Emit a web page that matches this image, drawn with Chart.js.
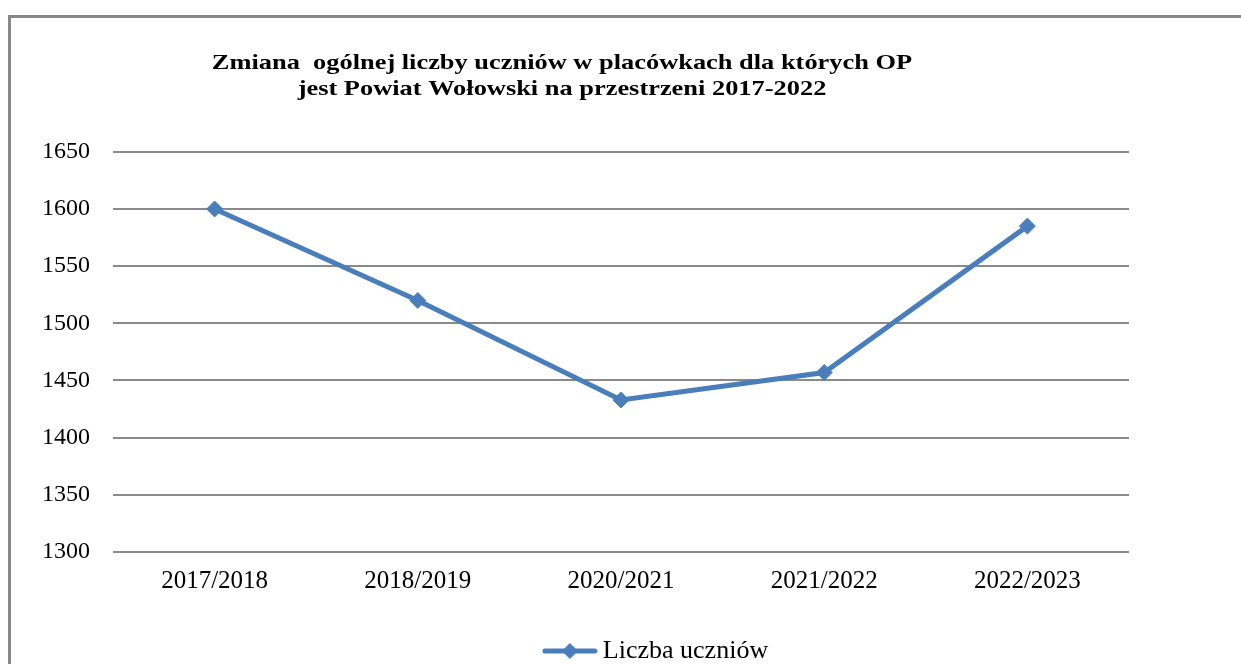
<!DOCTYPE html>
<html>
<head>
<meta charset="utf-8">
<script src="https://cdn.jsdelivr.net/npm/chart.js@4/dist/chart.umd.min.js"></script>
<style>
  html, body { margin: 0; padding: 0; background: #fff; }
  #wrap { width: 1241px; height: 664px; position: relative; }
</style>
</head>
<body>
<div id="wrap"><canvas id="c" width="1241" height="664"></canvas></div>
<script>
const categories = ['2017/2018', '2018/2019', '2020/2021', '2021/2022', '2022/2023'];
const liczbaUczniow = [1600, 1520, 1433, 1457, 1585];
const seriesName = 'Liczba uczniów';
const titleLines = ['Zmiana  ogólnej liczby uczniów w placówkach dla których OP', 'jest Powiat Wołowski na przestrzeni 2017-2022'];
const yMin = 1300, yMax = 1650, yStep = 50;

const BLUE = '#4a7ebb';
const SERIF = '"Liberation Serif", "Times New Roman", serif';
const TITLE_CX = 562, TITLE_SX = 1.2;

// legend symbol: line with diamond
const sym = document.createElement('canvas');
sym.width = 56; sym.height = 20;
(function () {
  const g = sym.getContext('2d');
  g.strokeStyle = BLUE; g.lineWidth = 5; g.lineCap = 'round';
  g.beginPath(); g.moveTo(3, 10); g.lineTo(53, 10); g.stroke();
  g.fillStyle = BLUE;
  g.beginPath(); g.moveTo(28, 2); g.lineTo(36, 10); g.lineTo(28, 18); g.lineTo(20, 10); g.closePath(); g.fill();
})();

const framePlugin = {
  id: 'frame',
  beforeDraw(chart) {
    const ctx = chart.ctx;
    ctx.save();
    ctx.fillStyle = '#888888';
    ctx.fillRect(8, 15, 1233, 3);
    ctx.fillRect(8, 15, 3, 649);
    ctx.restore();
  }
};
const adjustPlugin = {
  id: 'adjust',
  afterLayout(chart) {
    const tb = chart.titleBlock;
    if (tb) {
      tb.left = 0; tb.right = TITLE_CX * 2;
      if (!tb._wrapped) {
        const orig = tb.draw.bind(tb);
        tb.draw = function (area) {
          const ctx = chart.ctx;
          ctx.save();
          ctx.translate(TITLE_CX, 0); ctx.scale(TITLE_SX, 1); ctx.translate(-TITLE_CX, 0);
          orig(area);
          ctx.restore();
        };
        tb._wrapped = true;
      }
    }
    const lg = chart.legend;
    if (lg) {
      lg.top += 10; lg.bottom += 10;
      lg.left = 77; lg.right = 1241;
    }
  }
};

new Chart(document.getElementById('c'), {
  type: 'line',
  data: {
    labels: categories,
    datasets: [{
      label: seriesName,
      data: liczbaUczniow,
      borderColor: BLUE,
      backgroundColor: BLUE,
      borderWidth: 5,
      pointStyle: 'rectRot',
      pointRadius: 8,
      pointBorderWidth: 1,
      pointBackgroundColor: BLUE,
      pointBorderColor: BLUE,
      tension: 0,
      fill: false
    }]
  },
  options: {
    responsive: false,
    animation: false,
    devicePixelRatio: 1,
    layout: { padding: { left: 0, right: 112, top: 0, bottom: 0 } },
    plugins: {
      title: {
        display: true,
        text: titleLines,
        color: '#000',
        font: { family: SERIF, size: 22, weight: 'bold', lineHeight: 1.2 },
        padding: { top: 50, bottom: 49 }
      },
      legend: {
        display: true,
        position: 'bottom',
        labels: {
          usePointStyle: true,
          pointStyleWidth: 40,
          color: '#000',
          font: { family: SERIF, size: 26 },
          padding: 18,
          generateLabels(chart) {
            return [{ text: seriesName, pointStyle: sym, fillStyle: BLUE, strokeStyle: BLUE, lineWidth: 0, datasetIndex: 0, hidden: false }];
          }
        }
      },
      tooltip: { enabled: false }
    },
    scales: {
      x: {
        offset: true,
        grid: { display: false, drawTicks: false },
        border: { display: false },
        ticks: { color: '#000', font: { family: SERIF, size: 25 }, padding: 14, maxRotation: 0, autoSkip: false }
      },
      y: {
        min: yMin, max: yMax,
        grid: { color: '#8a8a8a', lineWidth: 2, drawTicks: false },
        border: { display: false },
        ticks: { stepSize: yStep, color: '#000', font: { family: SERIF, size: 24 }, padding: 23, callback: v => String(v) },
        afterFit(s) { s.width = 113; }
      }
    }
  },
  plugins: [framePlugin, adjustPlugin]
});
</script>
</body>
</html>
